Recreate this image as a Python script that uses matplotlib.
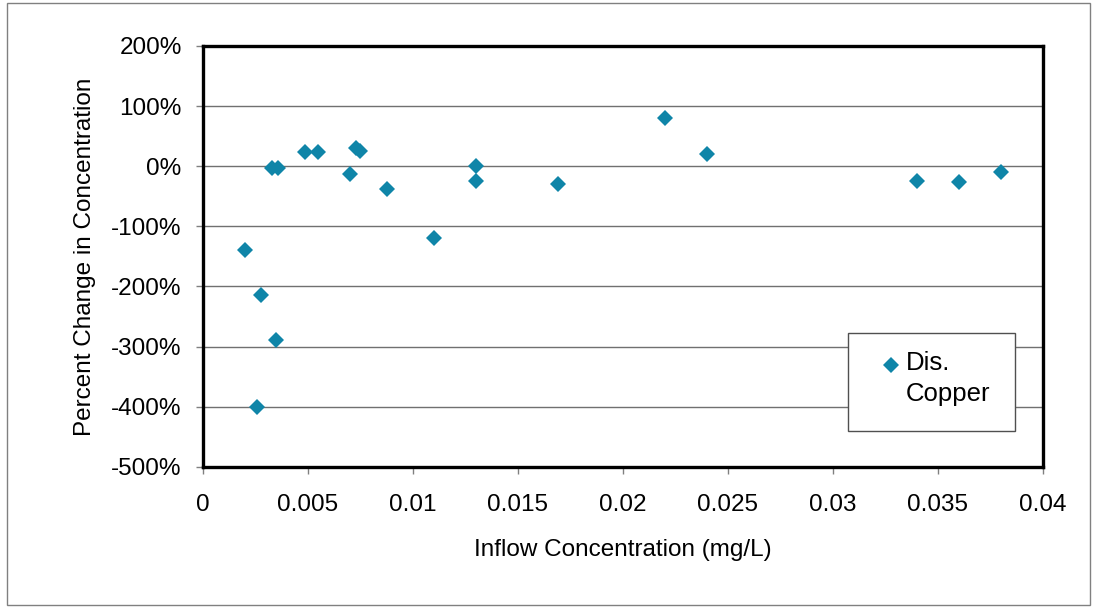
import matplotlib
matplotlib.use("Agg")
import matplotlib.pyplot as plt
from matplotlib.patches import Rectangle
from matplotlib.lines import Line2D
from matplotlib.ticker import FuncFormatter

# Inflow concentration (mg/L) and percent change for dissolved copper
inflow_mg_l = [0.0020, 0.0028, 0.0035, 0.0026, 0.0033, 0.0036, 0.0049, 0.0055,
               0.0073, 0.0075, 0.0070, 0.0088, 0.0110, 0.0130, 0.0130, 0.0169,
               0.0220, 0.0240, 0.0340, 0.0360, 0.0380]
pct_change = [-140, -215, -289, -400, -3, -3, 24, 24,
              30, 26, -13, -38, -119, 0, -24, -30,
              81, 20, -24, -27, -10]
series_label = "Dis.\nCopper"
y_ticks = [200, 100, 0, -100, -200, -300, -400, -500]
x_ticks = [0, 0.005, 0.01, 0.015, 0.02, 0.025, 0.03, 0.035, 0.04]
x_tick_labels = ["0", "0.005", "0.01", "0.015", "0.02", "0.025", "0.03", "0.035", "0.04"]

plt.rcParams["font.family"] = ["Liberation Sans", "DejaVu Sans"]
W, H = 1098, 609
fig = plt.figure(figsize=(W / 100, H / 100), dpi=100)
ax = fig.add_axes([202.5 / W, 1 - 466.7 / H, (1043 - 202.5) / W, (466.7 - 46) / H])

marker_color = "#0F85A8"
ax.plot(inflow_mg_l, pct_change, linestyle="none", marker="D", markersize=8.5,
        color=marker_color, markeredgewidth=0, zorder=3)

ax.set_xlim(0, 0.04)
ax.set_ylim(-500, 200)
ax.set_xticks(x_ticks)
ax.set_xticklabels(x_tick_labels)
ax.set_yticks(y_ticks)
ax.yaxis.set_major_formatter(FuncFormatter(lambda v, p: f"{int(round(v))}%"))

ax.grid(axis="y", color="#707070", linewidth=1.0, zorder=1)
ax.set_axisbelow(True)
for s in ax.spines.values():
    s.set_linewidth(2.4)
    s.set_color("black")

ax.tick_params(axis="both", direction="out", length=5, width=1, color="#808080",
               labelsize=17.5, labelcolor="black")
ax.tick_params(axis="y", pad=10)
ax.tick_params(axis="x", pad=15)

ax.set_xlabel("Inflow Concentration (mg/L)", fontsize=17.5, labelpad=16)
ax.set_ylabel("Percent Change in Concentration", fontsize=17.5, labelpad=11)

# Legend box drawn in figure pixel space
def fx(px):
    return px / W

def fy(py):
    return 1 - py / H

fig.add_artist(Rectangle((fx(848), fy(431)), fx(1015) - fx(848), fy(333) - fy(431),
                         transform=fig.transFigure, facecolor="white",
                         edgecolor="#505050", linewidth=1.0, zorder=5))
fig.add_artist(Line2D([fx(891)], [fy(365)], transform=fig.transFigure, marker="D",
                      markersize=8.5, color=marker_color, markeredgewidth=0,
                      linestyle="none", zorder=6))
fig.text(fx(906), fy(351), series_label, fontsize=18.5, va="top",
         ha="left", linespacing=1.35, zorder=6, transform=fig.transFigure)

# Outer chart border
fig.add_artist(Rectangle((fx(7), fy(605)), fx(1090) - fx(7), fy(3) - fy(605),
                         transform=fig.transFigure, facecolor="none",
                         edgecolor="#808080", linewidth=1.0))

fig.savefig("out.png", dpi=100)
